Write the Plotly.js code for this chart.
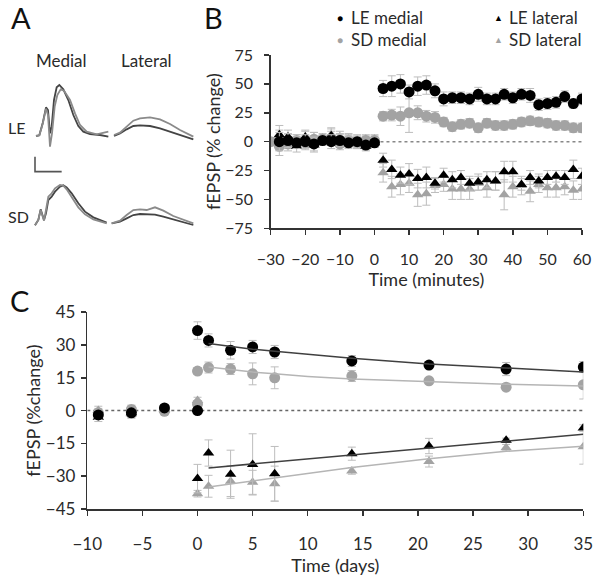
<!DOCTYPE html>
<html><head><meta charset="utf-8">
<script src="https://cdn.plot.ly/plotly-3.0.1.min.js"></script>
<style>html,body{margin:0;padding:0;background:#fff}#plot{width:600px;height:583px}</style>
</head><body><div id="plot"></div>
<script>
// ---------- Panel B data (minutes) ----------
const bTimePre = [-30,-27.5,-25,-22.5,-20,-17.5,-15,-12.5,-10,-7.5,-5,-2.5,0];
const bTimePost = [2.5,5,7.5,10,12.5,15,17.5,20,22.5,25,27.5,30,32.5,35,37.5,40,42.5,45,47.5,50,52.5,55,57.5,60];
const bLEmedPre = [null,0,1,-1,0,-2,1,0,1,-1,0,-3,-1];
const bSDmedPre = [0,-4,-2,1,-1,2,2,3,-2,1,-1,1,1];
const bLElatPre = [null,6,4,-4,4,-3,1,5,2,0,-1,-4,-1];
const bSDlatPre = [0,2,0,1,3,2,3,6,4,2,1,2,2];
const bPreErr = [3,8,6,5,6,6,4,6,5,5,5,4,4];
const bLEmed = [46,48,50,43,48,49,44,37,38,38,37,41,37,37,41,38,41,40,32,33,34,39,33,37];
const bSDmed = [22,23,22,25,25,22,21,17,13,15,16,12,16,14,14,15,17,18,17,16,14,14,12,12];
const bLElat = [-16,-24,-29,-28,-32,-31,-36,-29,-33,-31,-36,-35,-33,-34,-26,-26,-37,-31,-34,-31,-30,-31,-24,-30];
const bSDlat = [-27,-39,-37,-36,-46,-45,-38,-37,-41,-41,-41,-36,-40,-34,-46,-39,-38,-43,-37,-40,-40,-39,-42,-41];
const bLEmedErr = [7,9,8,6,8,8,6,6,5,5,5,6,5,5,5,5,5,6,5,5,5,5,4,5];
const bSDmedErr = [4,5,8,17,6,5,5,4,4,4,4,4,4,4,4,4,4,4,4,4,4,4,4,4];
const bLElatErr = [6,8,7,9,8,9,5,6,7,6,6,7,7,8,9,9,5,6,6,6,5,6,8,7];
const bSDlatErr = [8,9,9,8,10,10,6,6,9,9,9,6,8,8,13,9,8,9,7,8,8,7,8,9];
const bXTicks = [-30,-20,-10,0,10,20,30,40,50,60];
const bYTicks = [-75,-50,-25,0,25,50,75];

// ---------- Panel C data (days) ----------
const cDayPre = [-9,-6,-3,0];
const cDayPost = [0,1,3,5,7,14,21,28,35];
const cLEmedPre = [-2,-1,1.2,0];
const cSDmedPre = [-1,0.5,-0.3,3];
const cLElatPre = [-3,-1,0.5,0.5];
const cSDlatPre = [0,-1.5,0,4.6];
const cPreErr = [2,2,1.5,1.5];
const cLEmed = [36.6,32.1,27.6,29.1,26.8,22.7,20.8,19,19.9];
const cSDmed = [18.1,19.7,19,16.8,15,15.8,13.6,10.7,11.8];
const cLElat = [-31.1,-19.4,-29.1,-24.6,-28.9,-19.7,-16.2,-13.6,-8];
const cSDlat = [-38,-34.6,-32.3,-32.8,-33.4,-27.6,-23.3,-17,-16.5];
const cLEmedErr = [4,3,4,3,3,2.5,1.5,3,2.5];
const cSDmedErr = [1.5,2.5,2.5,5,5,2.5,1,1.5,6.5];
const cLElatErr = [6.5,6,11,14,12.5,3,3.5,1,1.5];
const cSDlatErr = [1.5,5,7,5.5,8,1.5,2.5,1.5,8];
// fitted trend lines
const cFitMedDays = [1,3,5,7,10,14,21,28,35];
const cFitLEmed = [30.7,29.3,28.1,27.1,25.6,23.9,21.3,19.4,17.7];
const cFitSDmed = [19.9,18.6,17.6,16.8,15.6,14.4,13.1,12.1,11.3];
const cFitLatDays = [1,14,21,28,35];
const cFitLElat = [-26.2,-20.3,-17.1,-13.9,-10.8];
const cFitSDlat = [-34.9,-26,-22,-18.6,-16.3];
const cXTicks = [-10,-5,0,5,10,15,20,25,30,35];
const cYTicks = [-45,-30,-15,0,15,30,45];

// ---------- Panel A example traces (sample index, response) ----------
const aLEmedT = [108,118,128,138,144,150,155,162,170,178,190,205,220,235,250,270,300,325];
const aLEmedDark = [408,406,370,322,330,400,380,300,262,255,268,300,345,378,395,402,405,410];
const aLEmedLightT = [108,118,128,138,144,150,156,164,172,182,192,210,225,240,260,290,325];
const aLEmedLight = [408,406,372,326,345,440,400,320,285,268,272,300,340,375,395,403,395];
const aLElatT = [342,360,380,400,420,450,480,510,540,580];
const aLElatDark = [408,400,388,378,376,378,385,395,405,418];
const aLElatLight = [405,398,380,362,355,352,358,372,390,410];
const aSDmedT = [105,115,122,128,132,138,145,155,165,180,190,200,215,235,255,280,300,320];
const aSDmedDark = [676,660,628,645,660,640,600,590,575,560,556,562,580,610,635,652,660,668];
const aSDmedLight = [676,660,630,648,662,630,590,580,565,555,557,568,592,622,643,658,664,670];
const aSDlatT = [335,360,380,400,420,440,465,490,520,550,580];
const aSDlatDark = [670,665,655,645,642,642,644,650,658,665,675];
const aSDlatLight = [670,662,645,630,628,630,622,632,648,660,670];
const aScaleT = [105,105,185];
const aScaleV = [470,515,515];

const BLACK = '#000000', GREY = '#a3a3a3', EBAR = '#bdbdbd';
const FONT = 'Lato, "Open Sans", sans-serif';
const TXT = '#2a2a2a';

function pts(x, y, err, color, symbol, xa, ya, size) {
  return {x:x, y:y, type:'scatter', mode:'markers', xaxis:xa, yaxis:ya, showlegend:false,
    marker:{color:color, symbol:symbol, size:size||10, line:{width:0}},
    error_y:{type:'data', array:err, visible:true, color:EBAR, thickness:1, width:4}};
}
function ln(x, y, color, xa, ya, w) {
  return {x:x, y:y, type:'scatter', mode:'lines', xaxis:xa, yaxis:ya, showlegend:false,
    line:{color:color, width:w||1.5}, hoverinfo:'skip'};
}

const data = [
  // Panel A
  ln(aLEmedT, aLEmedDark, '#444', 'x3','y3',1.8),
  ln(aLEmedLightT, aLEmedLight, '#8a8a8a', 'x3','y3',1.8),
  ln(aLElatT, aLElatDark, '#444', 'x3','y3',1.8),
  ln(aLElatT, aLElatLight, '#8a8a8a', 'x3','y3',1.8),
  ln(aSDmedT, aSDmedDark, '#444', 'x3','y3',1.8),
  ln(aSDmedT, aSDmedLight, '#8a8a8a', 'x3','y3',1.8),
  ln(aSDlatT, aSDlatDark, '#444', 'x3','y3',1.8),
  ln(aSDlatT, aSDlatLight, '#8a8a8a', 'x3','y3',1.8),
  ln(aScaleT, aScaleV, '#555', 'x3','y3',1.6),
  // Panel B
  pts(bTimePre, bSDlatPre, bPreErr, GREY, 'triangle-up', 'x','y', 10),
  pts(bTimePre, bSDmedPre, bPreErr, GREY, 'circle', 'x','y', 11),
  pts(bTimePre, bLElatPre, bPreErr, BLACK, 'triangle-up', 'x','y', 10),
  pts(bTimePre, bLEmedPre, bPreErr, BLACK, 'circle', 'x','y', 11),
  pts(bTimePost, bSDlat, bSDlatErr, GREY, 'triangle-up', 'x','y', 10),
  pts(bTimePost, bLElat, bLElatErr, BLACK, 'triangle-up', 'x','y', 10),
  pts(bTimePost, bSDmed, bSDmedErr, GREY, 'circle', 'x','y', 11),
  pts(bTimePost, bLEmed, bLEmedErr, BLACK, 'circle', 'x','y', 11),
  // Panel C
  pts(cDayPre, cSDlatPre, cPreErr, GREY, 'triangle-up', 'x2','y2', 10),
  pts(cDayPre, cLElatPre, cPreErr, BLACK, 'triangle-up', 'x2','y2', 10),
  pts(cDayPre, cSDmedPre, cPreErr, GREY, 'circle', 'x2','y2', 11),
  pts(cDayPre, cLEmedPre, cPreErr, BLACK, 'circle', 'x2','y2', 11),
  pts(cDayPost, cSDlat, cSDlatErr, GREY, 'triangle-up', 'x2','y2', 10),
  pts(cDayPost, cLElat, cLElatErr, BLACK, 'triangle-up', 'x2','y2', 10),
  pts(cDayPost, cSDmed, cSDmedErr, GREY, 'circle', 'x2','y2', 11),
  pts(cDayPost, cLEmed, cLEmedErr, BLACK, 'circle', 'x2','y2', 11),
  ln(cFitMedDays, cFitSDmed, '#b5b5b5', 'x2','y2',1.5),
  ln(cFitMedDays, cFitLEmed, '#404040', 'x2','y2',1.5),
  ln(cFitLatDays, cFitSDlat, '#b5b5b5', 'x2','y2',1.5),
  ln(cFitLatDays, cFitLElat, '#404040', 'x2','y2',1.5)
];

const H = 583, W = 600;
const px = v => v / W, py = v => 1 - v / H;

const axisBase = {showgrid:false, zeroline:false, showline:true, linecolor:'#333', linewidth:1.5,
  ticks:'outside', ticklen:5, tickwidth:1.5, tickcolor:'#333', fixedrange:true,
  tickfont:{family:FONT, size:16, color:TXT}};

function note(text, x, y, size, xanchor, color) {
  return {text:text, x:px(x), y:py(y), xref:'paper', yref:'paper', xanchor:xanchor||'center', yanchor:'middle',
    showarrow:false, font:{family:FONT, size:size, color:color||TXT}};
}

const layout = {
  width:W, height:H, margin:{l:0,r:0,t:0,b:0}, paper_bgcolor:'#fff', plot_bgcolor:'rgba(0,0,0,0)',
  font:{family:FONT, color:TXT},
  xaxis: Object.assign({}, axisBase, {domain:[px(270.7), px(582)], range:[-30,60], tickvals:bXTicks,
    anchor:'y', ticklabelstandoff:11,
    title:{text:'Time (minutes)', font:{family:FONT, size:18, color:TXT}, standoff:4}}),
  yaxis: Object.assign({}, axisBase, {domain:[py(228.3), py(55)], range:[-75,75], tickvals:bYTicks,
    anchor:'x', ticklabelstandoff:8,
    title:{text:'fEPSP (% change)', font:{family:FONT, size:18, color:TXT}, standoff:0}}),
  xaxis2: Object.assign({}, axisBase, {domain:[px(87.3), px(583.3)], range:[-10,35], tickvals:cXTicks,
    anchor:'y2', ticklabelstandoff:14, tickfont:{family:FONT, size:17, color:TXT},
    title:{text:'Time (days)', font:{family:FONT, size:18, color:TXT}, standoff:1}}),
  yaxis2: Object.assign({}, axisBase, {domain:[py(509), py(312.2)], range:[-45,45], tickvals:cYTicks,
    anchor:'x2', ticklabelstandoff:2, tickfont:{family:FONT, size:17, color:TXT},
    title:{text:'fEPSP (%change)', font:{family:FONT, size:18, color:TXT}, standoff:0}}),
  xaxis3: {domain:[0, px(200)], range:[0,600], visible:false, fixedrange:true, anchor:'y3'},
  yaxis3: {domain:[py(280), 1], range:[840,0], visible:false, fixedrange:true, anchor:'x3'},
  shapes:[
    {type:'line', xref:'x', yref:'y', x0:0, x1:60, y0:0, y1:0, line:{color:'#888', width:1.5, dash:'dot'}, layer:'below'},
    {type:'line', xref:'x2', yref:'y2', x0:-10, x1:35, y0:0, y1:0, line:{color:'#666', width:1.5, dash:'dot'}, layer:'below'}
  ],
  annotations:[
    note('A', 9, 18, 29, 'left', '#111'),
    note('B', 202, 18, 29, 'left', '#111'),
    note('C', 8, 300, 29, 'left', '#111'),
    note('Medial', 61, 60, 17),
    note('Lateral', 146, 60, 17),
    note('LE', 6, 127, 16, 'left'),
    note('SD', 6, 216, 16, 'left'),
    note('●', 340, 18, 10, 'center', '#000'),
    note('●', 340, 40, 10, 'center', GREY),
    note('▲', 498, 18, 9, 'center', '#000'),
    note('▲', 498, 40, 9, 'center', GREY),
    note('LE medial', 349, 18, 17, 'left'),
    note('SD medial', 349, 40, 17, 'left'),
    note('LE lateral', 507, 18, 17, 'left'),
    note('SD lateral', 507, 40, 17, 'left')
  ]
};

Plotly.newPlot('plot', data, layout, {staticPlot:true, displayModeBar:false});
</script>
</body></html>
